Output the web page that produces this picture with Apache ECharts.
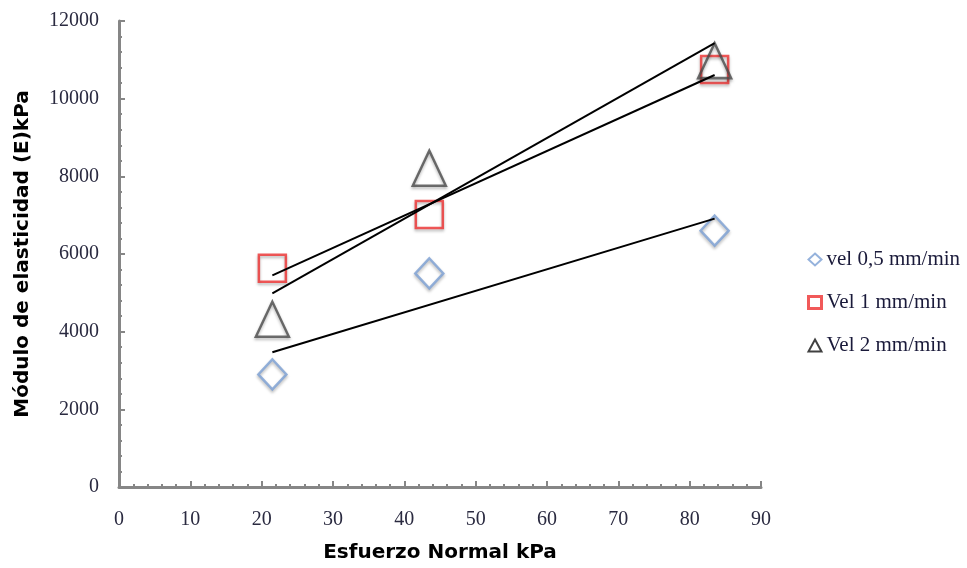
<!DOCTYPE html>
<html>
<head>
<meta charset="utf-8">
<script src="https://cdn.jsdelivr.net/npm/echarts@6/dist/echarts.min.js"></script>
<style>html,body{margin:0;padding:0;background:#fff}#c{width:967px;height:568px}</style>
</head>
<body>
<div id="c"></div>
<script>
// Data
var xVals = [21.5, 43.5, 83.5];
var vel05 = [2900, 5500, 6600];
var vel1 = [5630, 7020, 10750];
var vel2 = [4320, 8210, 10980];
// Trend line endpoints
var trendX = [21.5, 83.5];
var trend05 = [3470, 6910];
var trend1 = [5450, 10610];
var trend2 = [4985, 11430];
var seriesNames = ['vel 0,5 mm/min', 'Vel 1 mm/min', 'Vel 2 mm/min'];
var xTitle = 'Esfuerzo Normal kPa';
var yTitle = 'Módulo de elasticidad (E)kPa';

function pts(xs, ys) { return xs.map(function (x, i) { return [x, ys[i]]; }); }

var shadow = { shadowBlur: 3, shadowColor: 'rgba(0,0,0,0.35)', shadowOffsetY: 2 };
function markerStyle(col) {
  return Object.assign({ color: 'rgba(255,255,255,0)', borderColor: col, borderWidth: 2.5 }, shadow);
}
var cols = ['#7b9fd3', '#ee3030', '#4a4a4a'];

var chart = echarts.init(document.getElementById('c'), null, { renderer: 'canvas' });
var axisLbl = { fontFamily: 'Liberation Serif', fontSize: 20, color: '#2a2a40' };
var titleStyle = { fontFamily: 'DejaVu Sans', fontWeight: 'bold', fontSize: 20, color: '#000' };
chart.setOption({
  animation: false,
  grid: { left: 119, right: 206, top: 21, bottom: 80, containLabel: false },
  xAxis: {
    type: 'value', min: 0, max: 90, interval: 10,
    name: xTitle, nameLocation: 'middle', nameGap: 56,
    nameTextStyle: titleStyle,
    axisLine: { show: true, lineStyle: { color: '#868686', width: 3 } },
    axisTick: { show: true, inside: true, length: 6, lineStyle: { color: '#868686', width: 2 } },
    minorTick: { show: true, splitNumber: 5, length: 3, lineStyle: { color: '#868686', width: 2 } },
    axisLabel: Object.assign({ margin: 23 }, axisLbl),
    splitLine: { show: false }
  },
  yAxis: {
    type: 'value', min: 0, max: 12000, interval: 2000,
    name: yTitle, nameLocation: 'middle', nameGap: 86, nameRotate: 90,
    nameTextStyle: titleStyle,
    axisLine: { show: true, lineStyle: { color: '#868686', width: 3 } },
    axisTick: { show: true, inside: true, length: 6, lineStyle: { color: '#868686', width: 2 } },
    minorTick: { show: true, splitNumber: 5, length: 3, lineStyle: { color: '#868686', width: 2 } },
    axisLabel: Object.assign({ margin: 20, formatter: function (v) { return String(v); } }, axisLbl),
    splitLine: { show: false }
  },
  legend: {
    orient: 'vertical', left: 802, top: 244, itemGap: 22, itemWidth: 13, itemHeight: 12,
    textStyle: { fontFamily: 'Liberation Serif', fontSize: 21, color: '#1a1a3a' },
    data: [
      { name: seriesNames[0], icon: 'diamond', itemStyle: { color: '#fff', borderColor: cols[0], borderWidth: 2 } },
      { name: seriesNames[1], icon: 'rect', itemStyle: { color: '#fff', borderColor: cols[1], borderWidth: 3 } },
      { name: seriesNames[2], icon: 'triangle', itemStyle: { color: '#fff', borderColor: '#111', borderWidth: 2 } }
    ]
  },
  series: [
    { name: seriesNames[0], type: 'scatter', symbol: 'diamond', symbolSize: [28, 30], z: 2,
      itemStyle: markerStyle(cols[0]), data: pts(xVals, vel05) },
    { name: seriesNames[1], type: 'scatter', symbol: 'rect', symbolSize: [27, 27], z: 2,
      itemStyle: markerStyle(cols[1]), data: pts(xVals, vel1) },
    { name: seriesNames[2], type: 'scatter', symbol: 'triangle', symbolSize: [33, 35], z: 2,
      itemStyle: markerStyle(cols[2]), data: pts(xVals, vel2) },
    { name: 't05', type: 'line', symbol: 'none', z: 5, lineStyle: { color: '#000', width: 2 }, data: pts(trendX, trend05) },
    { name: 't1', type: 'line', symbol: 'none', z: 5, lineStyle: { color: '#000', width: 2 }, data: pts(trendX, trend1) },
    { name: 't2', type: 'line', symbol: 'none', z: 5, lineStyle: { color: '#000', width: 2 }, data: pts(trendX, trend2) }
  ]
});
</script>
</body>
</html>
